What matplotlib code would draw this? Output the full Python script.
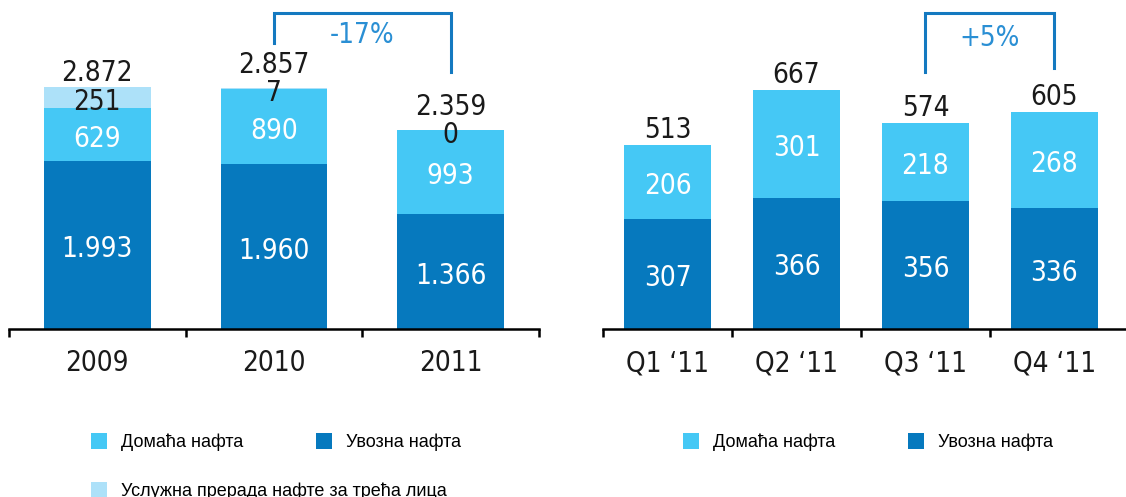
import matplotlib.pyplot as plt
from matplotlib.patches import Patch
from matplotlib.transforms import blended_transform_factory

# godisnji podaci (hiljade tona)
years = ['2009', '2010', '2011']
imported_y = [1993, 1960, 1366]
domestic_y = [629, 890, 993]
service_y = [251, 7, 0]
totals_y = ['2.872', '2.857', '2.359']

# kvartalni podaci 2011
quarters = ['Q1 \u201811', 'Q2 \u201811', 'Q3 \u201811', 'Q4 \u201811']
imported_q = [307, 366, 356, 336]
domestic_q = [206, 301, 218, 268]
totals_q = ['513', '667', '574', '605']

legend_names = ['Домаћа нафта', 'Увозна нафта', 'Услужна прерада нафте за трећа лица']

DARK = '#0679be'
MID = '#45c8f5'
LIGHT = '#ade1f9'
BRACKET = '#1479c0'
PCT = '#2a8fd4'
TXT = '#1a1a1a'

NUM = dict(family='DejaVu Sans', fontstretch='condensed', fontsize=20)
LEG_FONT = ['Liberation Sans', 'DejaVu Sans']


def fmt(v):
    return f"{v:,}".replace(',', '.')


def style_axis(ax, n, labels, xmax):
    for s in ['top', 'left', 'right']:
        ax.spines[s].set_visible(False)
    ax.spines['bottom'].set_linewidth(1.8)
    ax.set_yticks([])
    ax.set_xlim(-0.5, xmax)
    ticks = [i - 0.5 for i in range(n + 1) if i - 0.5 <= xmax - 0.9]
    if xmax <= n - 0.5:
        ticks.append(xmax)
    ax.set_xticks(ticks)
    ax.set_xticklabels([])
    ax.tick_params(axis='x', which='major', direction='out', length=5.8, width=1.8)
    ax.set_xticks(range(n), minor=True)
    ax.set_xticklabels(labels, minor=True, color=TXT, **NUM)
    ax.tick_params(axis='x', which='minor', length=0, pad=14.5)


def label_in(ax, xv, yv, txt, color):
    # centrirano u segmentu, malo spusteno zbog descendera
    ax.annotate(txt, (xv, yv), xytext=(0, -3), textcoords='offset points',
                ha='center', va='center', color=color, **NUM)


def bracket(ax, x0, x1, y0, ytop, y1, label, ly):
    tr = blended_transform_factory(ax.transData, ax.transAxes)
    ax.plot([x0, x0, x1, x1], [y0, ytop, ytop, y1], color=BRACKET, lw=2.2,
            transform=tr, clip_on=False, solid_joinstyle='miter')
    ax.text((x0 + x1) / 2, ly, label, transform=tr, ha='center', va='center',
            color=PCT, **NUM)


fig = plt.figure(figsize=(11.26, 4.97), dpi=100)
W, H = 1126, 497

# --- lijevi grafik: godine ---
ax1 = fig.add_axes([9 / W, (H - 329) / H, 530 / W, 329 / H])
x = range(len(years))
bw = 0.605
ax1.bar(x, imported_y, bw, color=DARK, zorder=2)
ax1.bar(x, domestic_y, bw, bottom=imported_y, color=MID, zorder=2)
base2 = [a + b for a, b in zip(imported_y, domestic_y)]
ax1.bar(x, service_y, bw, bottom=base2, color=LIGHT, zorder=2)
ax1.set_ylim(0, 329 / 0.0842)
style_axis(ax1, 3, years, 2.5)

top_off = [0, 6.5, 6.5]
for i in x:
    label_in(ax1, i, imported_y[i] / 2, fmt(imported_y[i]), 'white')
    label_in(ax1, i, imported_y[i] + domestic_y[i] / 2, fmt(domestic_y[i]), 'white')
    label_in(ax1, i, base2[i] + service_y[i] / 2, fmt(service_y[i]), TXT)
    ax1.annotate(totals_y[i], (i, base2[i] + service_y[i]), xytext=(0, top_off[i]),
                 textcoords='offset points', ha='center', va='bottom',
                 color=TXT, **NUM)

bracket(ax1, 1, 2, 0.869, 0.960, 0.781, '-17%', 0.895)

# --- desni grafik: kvartali ---
ax2 = fig.add_axes([603 / W, (H - 329) / H, 523 / W, 329 / H])
xq = range(len(quarters))
bq = 0.68
ax2.bar(xq, imported_q, bq, color=DARK, zorder=2)
ax2.bar(xq, domestic_q, bq, bottom=imported_q, color=MID, zorder=2)
ax2.set_ylim(0, 329 / 0.359)
style_axis(ax2, 4, quarters, 3.555)

for i in xq:
    label_in(ax2, i, imported_q[i] / 2, fmt(imported_q[i]), 'white')
    label_in(ax2, i, imported_q[i] + domestic_q[i] / 2, fmt(domestic_q[i]), 'white')
    ax2.annotate(totals_q[i], (i, imported_q[i] + domestic_q[i]), xytext=(0, 0.5),
                 textcoords='offset points', ha='center', va='bottom',
                 color=TXT, **NUM)

bracket(ax2, 2, 3, 0.781, 0.960, 0.793, '+5%', 0.885)

# --- legende ---
leg_kw = dict(loc='upper left', frameon=False, borderpad=0, borderaxespad=0,
              handlelength=0.89, handleheight=0.99, handletextpad=0.78,
              columnspacing=4.0, prop={'family': LEG_FONT, 'size': 13})
h_mid = Patch(facecolor=MID, edgecolor='none')
h_dark = Patch(facecolor=DARK, edgecolor='none')
h_light = Patch(facecolor=LIGHT, edgecolor='none')

row1 = (H - 433) / H
row2 = (H - 482) / H
fig.legend([h_mid, h_dark], legend_names[:2], ncol=2,
           bbox_to_anchor=(91 / W, row1), **leg_kw)
fig.legend([h_light], legend_names[2:], ncol=1,
           bbox_to_anchor=(91 / W, row2), **leg_kw)
fig.legend([h_mid, h_dark], legend_names[:2], ncol=2,
           bbox_to_anchor=(683 / W, row1), **leg_kw)

fig.savefig('out.png', dpi=100)
